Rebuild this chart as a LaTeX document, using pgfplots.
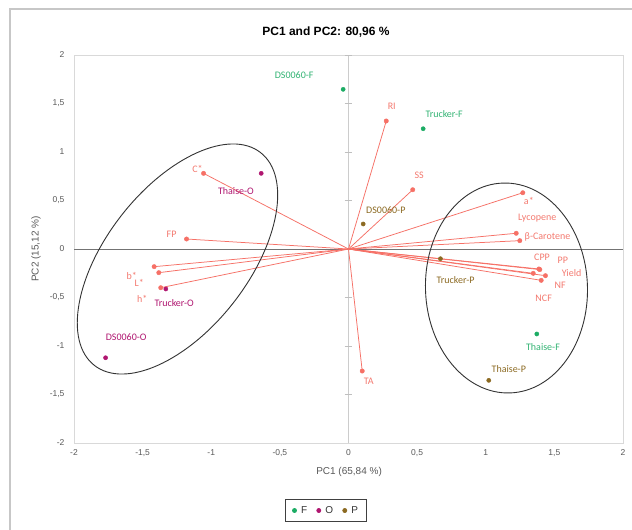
\documentclass[border=0pt]{standalone}
\usepackage{fontspec}
\setmainfont{Carlito}
\newfontfamily\arialf{Liberation Sans}
\usepackage{pgfplots}
\pgfplotsset{compat=1.18}
\usepackage{pgfplotstable}

\definecolor{varline}{RGB}{246,112,102}
\definecolor{vartext}{RGB}{244,122,112}
\definecolor{gF}{RGB}{28,172,100}
\definecolor{gO}{RGB}{176,22,112}
\definecolor{gP}{RGB}{140,106,34}
\definecolor{framec}{RGB}{217,217,217}
\definecolor{ticktext}{RGB}{89,89,89}

\pgfplotstableread{
label x y
RI 0.275 1.320
SS 0.468 0.611
C* -1.056 0.780
FP -1.180 0.103
b* -1.416 -0.182
L* -1.382 -0.244
h* -1.368 -0.399
a* 1.270 0.580
Lycopene 1.222 0.162
β-Carotene 1.248 0.086
CPP 1.387 -0.206
PP 1.394 -0.212
NF 1.346 -0.251
Yield 1.435 -0.275
NCF 1.404 -0.323
TA 0.100 -1.258
}\loadings

\pgfplotstableread{
label x y
RI 0.315 1.471
SS 0.515 0.763
C* -1.100 0.825
FP -1.289 0.155
b* -1.580 -0.280
L* -1.525 -0.350
h* -1.503 -0.519
a* 1.314 0.498
Lycopene 1.375 0.316
β-Carotene 1.450 0.127
CPP 1.410 -0.086
PP 1.561 -0.113
Yield 1.625 -0.251
NF 1.542 -0.378
NCF 1.422 -0.509
TA 0.148 -1.364
}\loadlabels

\pgfplotstableread{
label x y lx ly
DS0060-F -0.039 1.646 -0.396 1.794
Trucker-F 0.544 1.240 0.697 1.392
Thaise-F 1.372 -0.876 1.417 -1.014
}\groupF

\pgfplotstableread{
label x y lx ly
Thaise-O -0.636 0.780 -0.820 0.601
Trucker-O -1.331 -0.412 -1.270 -0.560
DS0060-O -1.770 -1.121 -1.620 -0.905
}\groupO

\pgfplotstableread{
label x y lx ly
DS0060-P 0.107 0.258 0.272 0.405
Trucker-P 0.670 -0.100 0.780 -0.320
Thaise-P 1.022 -1.354 1.168 -1.240
}\groupP

\begin{document}
\begin{tikzpicture}
\path[use as bounding box] (0,0) rectangle (632pt,-530pt);
\fill[white] (0,0) rectangle (632pt,-530pt);
\draw[black!22, line width=1.2pt] (10pt,-531pt) -- (10pt,-9pt) -- (633pt,-9pt);
\begin{axis}[
  at={(74pt,-443pt)}, anchor=south west,
  width=549pt, height=388pt, scale only axis,
  xmin=-2, xmax=2, ymin=-2, ymax=2,
  xtick={-2,-1.5,...,2}, ytick={-2,-1.5,...,2},
  major tick length=0pt,
  axis line style={framec, line width=0.8pt},
  clip=false,
  /pgf/number format/assume math mode=true,
  /pgf/number format/use comma,
  ticklabel style={font=\arialf\fontsize{8.5}{10}\selectfont, text=ticktext},
  yticklabel style={xshift=-6pt},
  xticklabel style={yshift=-3pt},
  title={\arialf\bfseries\fontsize{12}{14}\selectfont PC1 and PC2: 80,96 \%},
  title style={at={(axis description cs:0.459,1.043)}, anchor=center},
  xlabel={PC1 (65,84 \%)},
  ylabel={PC2 (15,12 \%)},
  label style={font=\arialf\fontsize{10}{12}\selectfont, text=ticktext},
  xlabel style={at={(axis description cs:0.501,-0.0747)}, anchor=center},
  ylabel style={at={(axis description cs:-0.069,0.5)}, anchor=center},
  legend columns=3,
  legend style={at={(axis description cs:0.459,-0.174)}, anchor=center,
    draw=black!75, line width=0.6pt, font=\arialf\fontsize{10}{12}\selectfont,
    inner xsep=7pt, inner ysep=5.5pt,
    nodes={inner sep=1.5pt, text=black!80},
    /tikz/every odd column/.append style={column sep=3pt},
    /tikz/every even column/.append style={column sep=8pt}},
  legend image code/.code={\draw[mark repeat=2,mark phase=2,#1] plot coordinates {(0pt,0pt) (3pt,0pt) (6pt,0pt)};},
]
% zero lines
\draw[black!20, line width=1.6pt] (axis cs:0,-2) -- (axis cs:0,2);
\pgfplotsinvokeforeach{-1.5,-1,-0.5,0.5,1,1.5,2}{
  \draw[black!25, line width=0.8pt] ([xshift=-4pt]axis cs:0,#1) -- ([xshift=3pt]axis cs:0,#1);
}
\draw[black!55, line width=0.7pt] (axis cs:-2,0) -- (axis cs:2,0);

% loading vectors
\addplot[varline, line width=0.75pt, forget plot, quiver={u=\thisrow{x}, v=\thisrow{y}}] table[x expr=0, y expr=0] {\loadings};
\addplot[only marks, mark=*, mark size=2.2pt, varline, forget plot] table[x=x, y=y] {\loadings};
\addplot[only marks, mark=none, forget plot, nodes near coords, point meta=explicit symbolic,
  every node near coord/.append style={anchor=center, inner sep=0pt, text=vartext, font=\fontsize{10}{12}\selectfont}]
  table[x=x, y=y, meta=label] {\loadlabels};

% groups
\addplot[only marks, mark=*, mark size=2.1pt, gF, mark options={draw=gF, fill=gF}] table[x=x, y=y] {\groupF};
\addlegendentry{F}
\addplot[only marks, mark=*, mark size=2.1pt, gO, mark options={draw=gO, fill=gO}] table[x=x, y=y] {\groupO};
\addlegendentry{O}
\addplot[only marks, mark=*, mark size=2.1pt, gP, mark options={draw=gP, fill=gP}] table[x=x, y=y] {\groupP};
\addlegendentry{P}

\addplot[only marks, mark=none, forget plot, nodes near coords, point meta=explicit symbolic,
  every node near coord/.append style={anchor=center, inner sep=0pt, text=gF!90!white, font=\fontsize{10}{12}\selectfont}]
  table[x=lx, y=ly, meta=label] {\groupF};
\addplot[only marks, mark=none, forget plot, nodes near coords, point meta=explicit symbolic,
  every node near coord/.append style={anchor=center, inner sep=0pt, text=gO, font=\fontsize{10}{12}\selectfont}]
  table[x=lx, y=ly, meta=label] {\groupO};
\addplot[only marks, mark=none, forget plot, nodes near coords, point meta=explicit symbolic,
  every node near coord/.append style={anchor=center, inner sep=0pt, text=gP, font=\fontsize{10}{12}\selectfont}]
  table[x=lx, y=ly, meta=label] {\groupP};

\coordinate (Lc) at (axis cs:-1.246,-0.103);
\coordinate (Rc) at (axis cs:1.151,-0.402);
\end{axis}
\draw[black!80, line width=0.9pt, shift={(Lc)}, rotate=52] (0,0) ellipse [x radius=135pt, y radius=71pt];
\draw[black!80, line width=0.9pt, shift={(Rc)}, rotate=2] (0,0) ellipse [x radius=81pt, y radius=105pt];
\end{tikzpicture}
\end{document}
